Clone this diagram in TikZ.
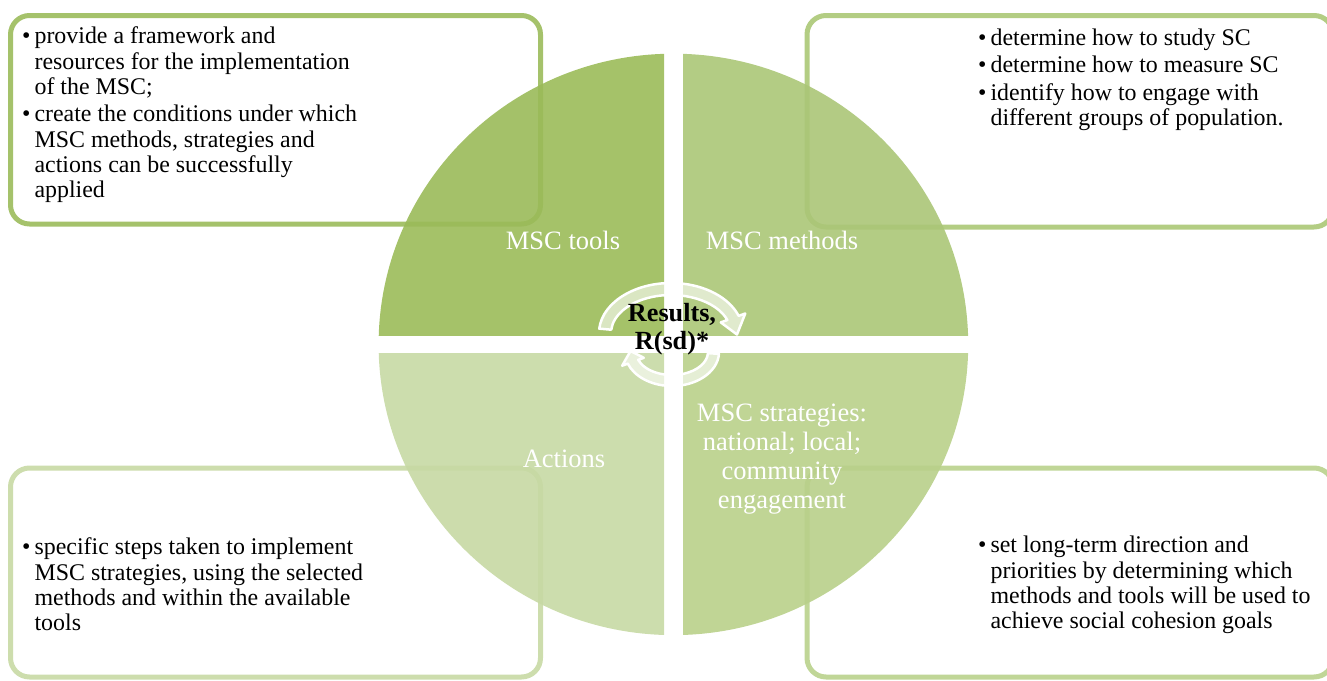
\documentclass[tikz,border=0pt]{standalone}
\usepackage{fontspec}
\setmainfont{Liberation Serif}
\usetikzlibrary{calc}

% quadrant fills (drawn at 90% opacity)
\definecolor{toolsfill}{RGB}{155,187,89}
\definecolor{methodsfill}{RGB}{171,198,119}
\definecolor{strategyfill}{RGB}{185,208,138}
\definecolor{actionsfill}{RGB}{199,217,164}
% frame colours of the four text panels
\definecolor{toolsline}{RGB}{165,194,107}
\definecolor{methodsline}{RGB}{179,205,131}
\definecolor{strategyline}{RGB}{192,214,151}
\definecolor{actionsline}{RGB}{205,221,173}

\begin{document}
\begin{tikzpicture}[x=1pt,y=-1pt,
  infobox/.style={draw, line width=5pt, rounded corners=19pt, fill=white,
    outer sep=0pt, inner sep=0pt, anchor=north west},
  quad/.style={fill opacity=0.9},
  boxtext/.style={anchor=north west, inner sep=0pt, text=black,
    font=\fontsize{23.9}{25.3}\selectfont},
  quadlabel/.style={text=white, inner sep=0pt, align=center,
    font=\fontsize{26.5}{29}\selectfont},
  cyclearrow/.style={draw=white, line width=2.5pt, fill=white,
    fill opacity=0.6, line join=round},
]
\useasboundingbox (0,0) rectangle (1327,680);

% ---- text panels behind the circle
\node[infobox, draw=toolsline, minimum width=530pt, minimum height=208.5pt]
  (toolsbox) at (10.5,15.5) {};
\node[infobox, draw=methodsline, minimum width=526pt, minimum height=211.5pt]
  (methodsbox) at (807,15.5) {};
\node[infobox, draw=actionsline, minimum width=530pt, minimum height=209pt]
  (actionsbox) at (10.5,468) {};
\node[infobox, draw=strategyline, minimum width=526pt, minimum height=209pt]
  (strategybox) at (807,468) {};

% ---- the four quarters of the disc
\coordinate (hub) at (673.4,344.4);
\begin{scope}
  \clip (0,0) rectangle (664,335);
  \fill[toolsfill, quad] (hub) ellipse [x radius=294.8pt, y radius=290.7pt];
\end{scope}
\begin{scope}
  \clip (683,0) rectangle (1327,335);
  \fill[methodsfill, quad] (hub) ellipse [x radius=294.8pt, y radius=290.7pt];
\end{scope}
\begin{scope}
  \clip (0,353) rectangle (664,680);
  \fill[actionsfill, quad] (hub) ellipse [x radius=294.8pt, y radius=290.7pt];
\end{scope}
\begin{scope}
  \clip (683,353) rectangle (1327,680);
  \fill[strategyfill, quad] (hub) ellipse [x radius=294.8pt, y radius=290.7pt];
\end{scope}

% ---- quarter labels
\node[quadlabel] (toolslbl) at (563,240) {MSC tools};
\node[quadlabel] (methodslbl) at (782,240) {MSC methods};
\node[quadlabel] (actionslbl) at (564,459) {Actions};
\node[quadlabel] (strategylbl) at (782,459)
  {MSC strategies:\\national; local;\\community\\engagement};

% ---- cycle arrows in the middle
\coordinate (upperhub) at (671,333);
\coordinate (lowerhub) at (672,352);
\path[cyclearrow]
  ($(upperhub)+(175:72pt and 50pt)$)
  arc[start angle=175, end angle=20, x radius=72pt, y radius=50pt]
  -- ($(upperhub)+(20:79pt and 57pt)$)
  -- ($(upperhub)+(-2:66pt and 44pt)$)
  -- ($(upperhub)+(20:53pt and 31pt)$)
  -- ($(upperhub)+(20:60pt and 38pt)$)
  arc[start angle=20, end angle=175, x radius=60pt, y radius=38pt]
  -- cycle;
\path[cyclearrow]
  ($(lowerhub)+(-3:47pt and 34pt)$)
  arc[start angle=-3, end angle=-160, x radius=47pt, y radius=34pt]
  -- ($(lowerhub)+(-160:53pt and 40pt)$)
  -- ($(lowerhub)+(-182:41.5pt and 28.5pt)$)
  -- ($(lowerhub)+(-160:30pt and 17pt)$)
  -- ($(lowerhub)+(-160:36pt and 23pt)$)
  arc[start angle=-160, end angle=-3, x radius=36pt, y radius=23pt]
  -- cycle;

\node[inner sep=0pt, align=center, font=\bfseries\fontsize{26.2}{28}\selectfont]
  (results) at (672,329) {Results,\\R(sd)*};

% ---- panel texts
\node[boxtext] (toolstext) at (22,26) {%
  \begin{tabular}{@{}l@{\hspace{4pt}}l@{}}
  \textbullet & provide a framework and\\
   & resources for the implementation\\
   & of the MSC;\\[2pt]
  \textbullet & create the conditions under which\\
   & MSC methods, strategies and\\
   & actions can be successfully\\
   & applied
  \end{tabular}};
\node[boxtext] (methodstext) at (978,27.5) {%
  \begin{tabular}{@{}l@{\hspace{4pt}}l@{}}
  \textbullet & determine how to study SC\\[2pt]
  \textbullet & determine how to measure SC\\[2pt]
  \textbullet & identify how to engage with\\
   & different groups of population.
  \end{tabular}};
\node[boxtext] (actionstext) at (22,537) {%
  \begin{tabular}{@{}l@{\hspace{4pt}}l@{}}
  \textbullet & specific steps taken to implement\\
   & MSC strategies, using the selected\\
   & methods and within the available\\
   & tools
  \end{tabular}};
\node[boxtext] (strategytext) at (978,535) {%
  \begin{tabular}{@{}l@{\hspace{4pt}}l@{}}
  \textbullet & set long-term direction and\\
   & priorities by determining which\\
   & methods and tools will be used to\\
   & achieve social cohesion goals
  \end{tabular}};
\end{tikzpicture}
\end{document}
